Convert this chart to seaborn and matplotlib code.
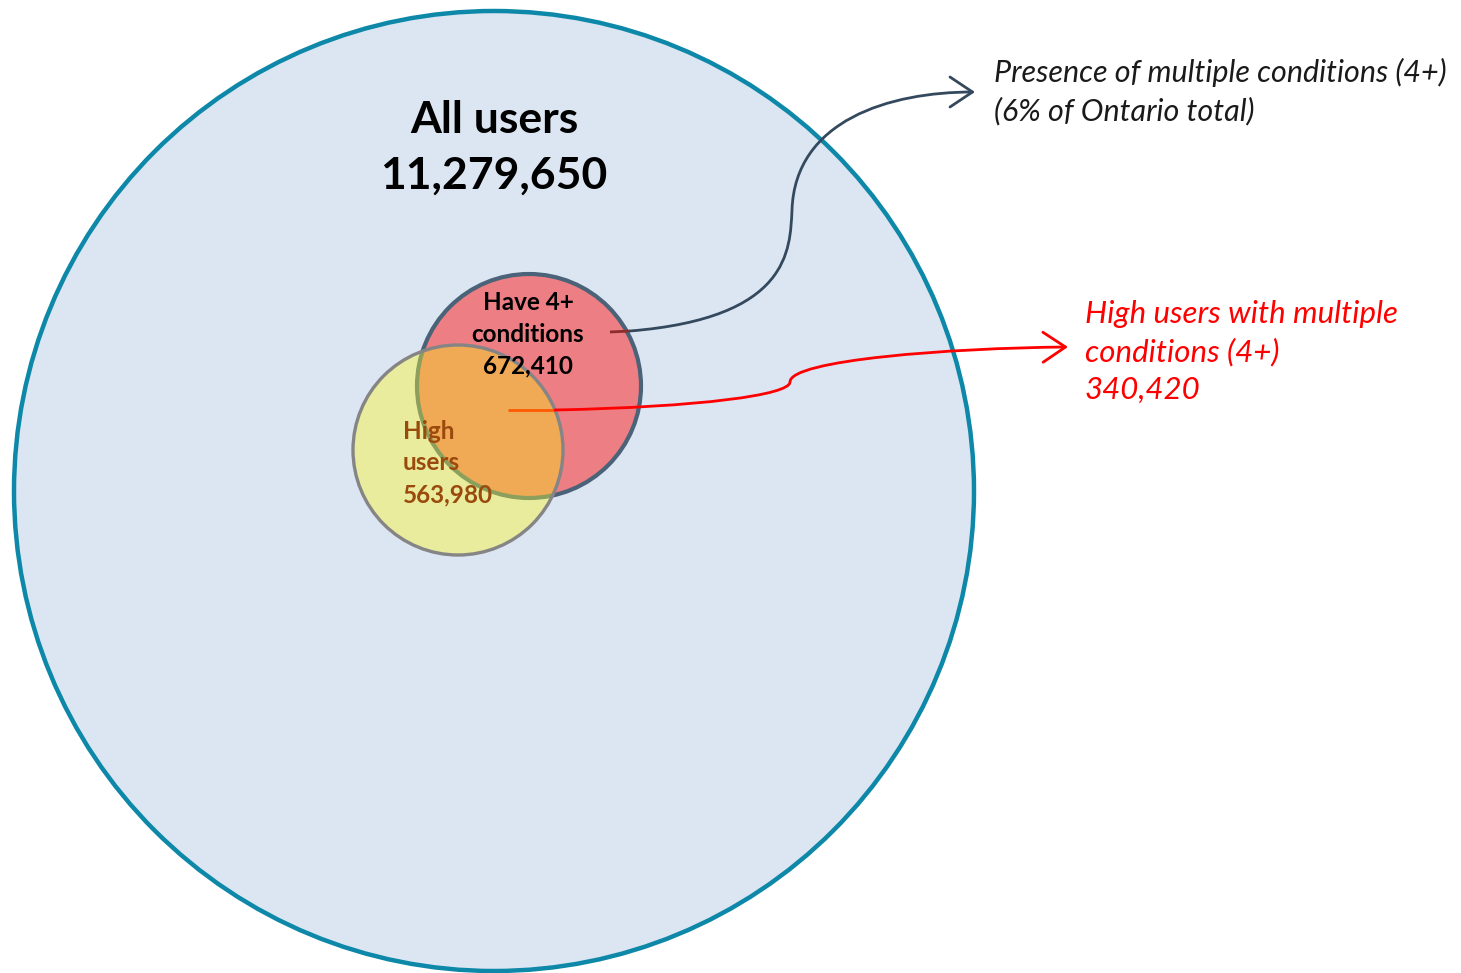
import matplotlib
matplotlib.use("Agg")
import matplotlib.pyplot as plt
import seaborn as sns
from matplotlib.patches import Circle, FancyArrowPatch
from matplotlib.path import Path

# ---- data ----
set_names = ["All users", "Have 4+\nconditions", "High\nusers"]
set_counts = [11279650, 672410, 563980]
overlap_label = "High users with multiple\nconditions (4+)"
overlap_count = 340420
share_label = "Presence of multiple conditions (4+)\n(6% of Ontario total)"

# ---- layout (pixel coordinates) ----
W, H = 1461, 973
centers = [(494, 491), (529, 386), (458, 450)]
radii = [480, 112, 105]
fills = ["#DCE6F2", "#EC7E84", "#E8EC9C"]
edges = ["#0E88A8", "#4A6378", "#858585"]
edge_w = [3.2, 3.0, 2.4]
overlap_fill = "#F0AA55"

sns.set_theme(style="white")
plt.rcParams["font.family"] = ["Lato", "DejaVu Sans"]

fig = plt.figure(figsize=(W / 100, H / 100), dpi=100)
ax = fig.add_axes([0, 0, 1, 1])
ax.set_xlim(0, W)
ax.set_ylim(H, 0)
ax.set_aspect("equal")
ax.axis("off")

def fmt(n):
    return f"{n:,}"

# big circle
ax.add_patch(Circle(centers[0], radii[0], facecolor=fills[0], edgecolor=edges[0], lw=edge_w[0], zorder=1))
# red circle
ax.add_patch(Circle(centers[1], radii[1], facecolor=fills[1], edgecolor=edges[1], lw=edge_w[1], zorder=2))
# yellow circle fill
ax.add_patch(Circle(centers[2], radii[2], facecolor=fills[2], edgecolor="none", zorder=3))
# overlap
clip_red = Circle(centers[1], radii[1], transform=ax.transData)
ov = Circle(centers[2], radii[2], facecolor=overlap_fill, edgecolor="none", zorder=4)
ax.add_patch(ov)
ov.set_clip_path(clip_red)
# red edge inside yellow
clip_yel = Circle(centers[2], radii[2], transform=ax.transData)
re = Circle(centers[1], radii[1], facecolor="none", edgecolor="#8C9F5C", lw=edge_w[1], zorder=5)
ax.add_patch(re)
re.set_clip_path(clip_yel)
# yellow edge
ax.add_patch(Circle(centers[2], radii[2], facecolor="none", edgecolor=edges[2], lw=edge_w[2], zorder=6))

# texts
ax.text(494, 148, f"{set_names[0]}\n{fmt(set_counts[0])}", ha="center", va="center",
        fontsize=32, fontweight="bold", color="black", linespacing=1.48, zorder=10)
ax.text(528, 334, f"{set_names[1]}\n{fmt(set_counts[1])}", ha="center", va="center",
        fontsize=17.5, fontweight="bold", color="black", linespacing=1.47, zorder=10)
ax.text(403, 463, f"{set_names[2]}\n{fmt(set_counts[2])}", ha="left", va="center",
        fontsize=17.5, fontweight="bold", color="#9B4A0E", linespacing=1.47, zorder=10)

ax.text(994, 92, share_label, ha="left", va="center", fontsize=22, fontstyle="italic",
        color="#1A1A1A", linespacing=1.41, zorder=10)
ax.text(1085, 352, f"{overlap_label}\n{fmt(overlap_count)}", ha="left", va="center",
        fontsize=22.5, fontstyle="italic", color="#FF0000", linespacing=1.42, zorder=10)

# arrow 1 (dark)
ax.plot([610, 630], [332, 331], color="#8B2D2D", lw=2, zorder=9, solid_capstyle="butt")
p1 = Path([(630, 331), (790, 318), (790, 250), (792, 210),
           (795, 120), (890, 92), (975, 92)],
          [Path.MOVETO, Path.CURVE4, Path.CURVE4, Path.CURVE4,
           Path.CURVE4, Path.CURVE4, Path.CURVE4])
a1 = FancyArrowPatch(path=p1, arrowstyle="->,head_length=0.9,head_width=0.6",
                     mutation_scale=18, color="#34495E", lw=2, zorder=9)
ax.add_patch(a1)

# arrow 2 (red)
ax.plot([508, 555], [410, 410], color="#FF5A00", lw=2, zorder=9, solid_capstyle="butt")
p2 = Path([(555, 410), (700, 407), (790, 395), (790, 382),
           (790, 360), (950, 348), (1068, 347)],
          [Path.MOVETO, Path.CURVE4, Path.CURVE4, Path.CURVE4,
           Path.CURVE4, Path.CURVE4, Path.CURVE4])
a2 = FancyArrowPatch(path=p2, arrowstyle="->,head_length=0.9,head_width=0.6",
                     mutation_scale=18, color="#FF0000", lw=2, zorder=9)
ax.add_patch(a2)

fig.savefig("out.png", dpi=100)
